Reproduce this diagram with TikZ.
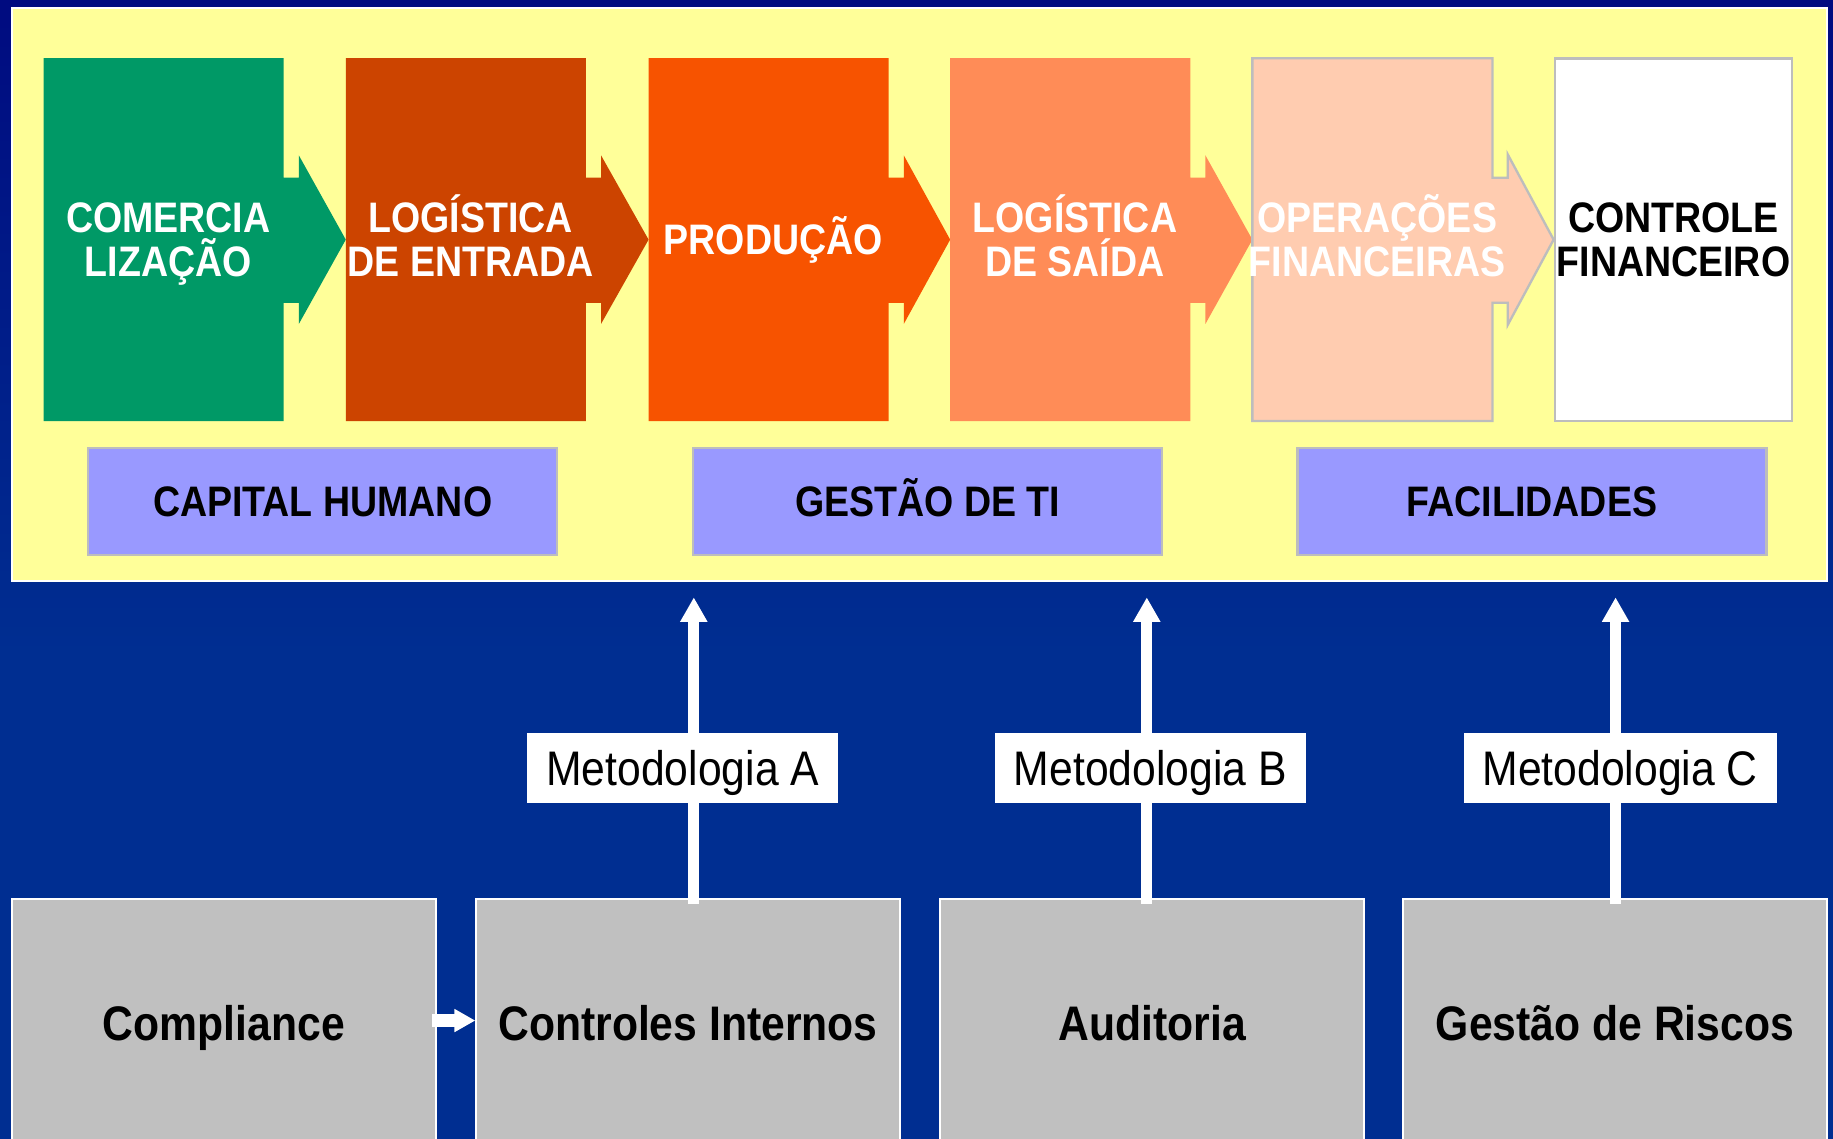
\documentclass[tikz,border=0pt]{standalone}
\usepackage{fontspec}
\setmainfont{Liberation Sans}[FakeStretch=0.88]
\usetikzlibrary{arrows.meta,calc}
\definecolor{navytop}{HTML}{000B80}
\definecolor{bluebg}{HTML}{002E91}
\definecolor{yel}{HTML}{FFFF99}
\definecolor{cgreen}{HTML}{009966}
\definecolor{cdark}{HTML}{CC4400}
\definecolor{corange}{HTML}{F75300}
\definecolor{clight}{HTML}{FF8C57}
\definecolor{cpeach}{HTML}{FFCCB0}
\definecolor{cpurple}{HTML}{9999FF}
\definecolor{cgray}{HTML}{C0C0C0}
\definecolor{cline}{HTML}{BDBDBD}
\newcommand\cl[1]{\makebox[0pt][c]{#1}}
\newcommand\clr[1]{\makebox[0pt][c]{\hspace{8pt}#1}}
\newcommand\sm[1]{\smash{#1}}
\pgfdeclarelayer{bgA}
\pgfdeclarelayer{bgB}
\pgfsetlayers{bgA,bgB,main}
\begin{document}
\begin{tikzpicture}[x=1pt,y=-1pt,
  proc/.style={rectangle, minimum width=205pt, minimum height=310pt, inner sep=0pt,
    font=\fontsize{36.5}{38}\selectfont\bfseries, align=center, text=white},
  suppbox/.style={rectangle, minimum width=401pt, minimum height=92pt, inner sep=0pt,
    fill=cpurple, draw=cline, line width=2pt, font=\fontsize{36.5}{38}\selectfont\bfseries,
    text height=26.1pt, text depth=0pt},
  funcbox/.style={rectangle, minimum width=363pt, minimum height=212pt, inner sep=0pt,
    fill=cgray, draw=white, line width=1.5pt, font=\fontsize{41.5}{46}\selectfont\bfseries,
    text height=29.7pt, text depth=0pt},
  metbox/.style={rectangle, minimum height=60pt, inner sep=0pt, fill=white,
    font=\fontsize{41.5}{46}\selectfont, text height=29.7pt, text depth=0pt},
  uparr/.style={white, line width=9.5pt, -{Triangle[width=22pt,length=21pt]}}]
\useasboundingbox (0,0) rectangle (1568,974);
\clip (0,0) rectangle (1568,974);
\begin{pgfonlayer}{bgA}
  \shade[top color=navytop, bottom color=bluebg] (0,0) rectangle (1568,560);
  \fill[bluebg] (0,559) rectangle (1568,974);
  \node[rectangle, fill=yel, draw=white, line width=1.5pt, minimum width=1553pt,
        minimum height=490pt, inner sep=0pt] (panel) at (786.5,252) {};
\end{pgfonlayer}

% value chain
\node[proc] (b1) at (140,205) {\clr{COMERCIA}\\\clr{LIZA\sm{ÇÃ}O}};
\node[proc] (b2) at (398.5,205) {\clr{LOG\sm{Í}STICA}\\\clr{DE ENTRADA}};
\node[proc, text height=26.1pt, text depth=0pt] (b3) at (657.5,205) {\clr{PRODUÇÃO}};
\node[proc] (b4) at (915.5,205) {\clr{LOG\sm{Í}STICA}\\\clr{DE SA\sm{Í}DA}};
\node[proc] (b5) at (1174,205) {\clr{OPERA\sm{ÇÕ}ES}\\\clr{FINANCEIRAS}};
\node[proc, minimum width=203pt, fill=white, draw=cline, line width=2pt, text=black]
     (b6) at (1431.5,205) {\cl{CONTROLE}\\\cl{FINANCEIRO}};

\begin{pgfonlayer}{bgB}
  \foreach \a/\b/\c in {b1/b2/cgreen, b2/b3/cdark, b3/b4/corange, b4/b5/clight}{
    \fill[\c] (\a.north west) -- (\a.north east) -- ($(\a.east)+(0,-53)$) -- ++(13,0)
      -- ++(0,-19) -- (\b.west) -- ($(\a.east)+(13,72)$) -- ++(0,-18) -- ++(-13,0)
      -- (\a.south east) -- (\a.south west) -- cycle;
  }
  \draw[cline, line width=2pt, fill=cpeach, line join=miter]
    (b5.north west) -- (b5.north east) -- ($(b5.east)+(0,-53)$) -- ++(13,0)
      -- ++(0,-20) -- (b6.west) -- ($(b5.east)+(13,73)$) -- ++(0,-19) -- ++(-13,0)
      -- (b5.south east) -- (b5.south west) -- cycle;
\end{pgfonlayer}

% support activities
\node[suppbox] (cap) at (276,429) {CAPITAL HUMANO};
\node[suppbox] (gti) at (793.5,429) {GESTÃO DE TI};
\node[suppbox] (fac) at (1310.5,429) {FACILIDADES};

% functions
\node[funcbox] (cmp) at (191.5,875) {Compliance};
\node[funcbox] (cin) at (588.5,875) {Controles Internos};
\node[funcbox] (aud) at (985.5,875) {Auditoria};
\node[funcbox] (gri) at (1381.5,875) {Gestão de Riscos};

\coordinate (tA) at (593.5,511);
\coordinate (tB) at (981,511);
\coordinate (tC) at (1382,511);
\draw[uparr] ($(cin.north)+(5,5)$) -- (tA);
\draw[uparr] ($(aud.north)+(-4.5,5)$) -- (tB);
\draw[uparr] ($(gri.north)+(0.5,5)$) -- (tC);

\fill[white] ($(cmp.east)+(-4,-7.5)$) -- ($(cmp.east)+(15,-7.5)$) -- ($(cmp.east)+(15,-12)$)
  -- ($(cin.west)+(0,-2)$) -- ($(cmp.east)+(15,8)$) -- ($(cmp.east)+(15,3.5)$)
  -- ($(cmp.east)+(-4,3.5)$) -- cycle;

\node[metbox, minimum width=266pt] (mA) at (584,657) {Metodologia A};
\node[metbox, minimum width=266pt] (mB) at (984,657) {Metodologia B};
\node[metbox, minimum width=268pt] (mC) at (1386,657) {Metodologia C};
\end{tikzpicture}
\end{document}
